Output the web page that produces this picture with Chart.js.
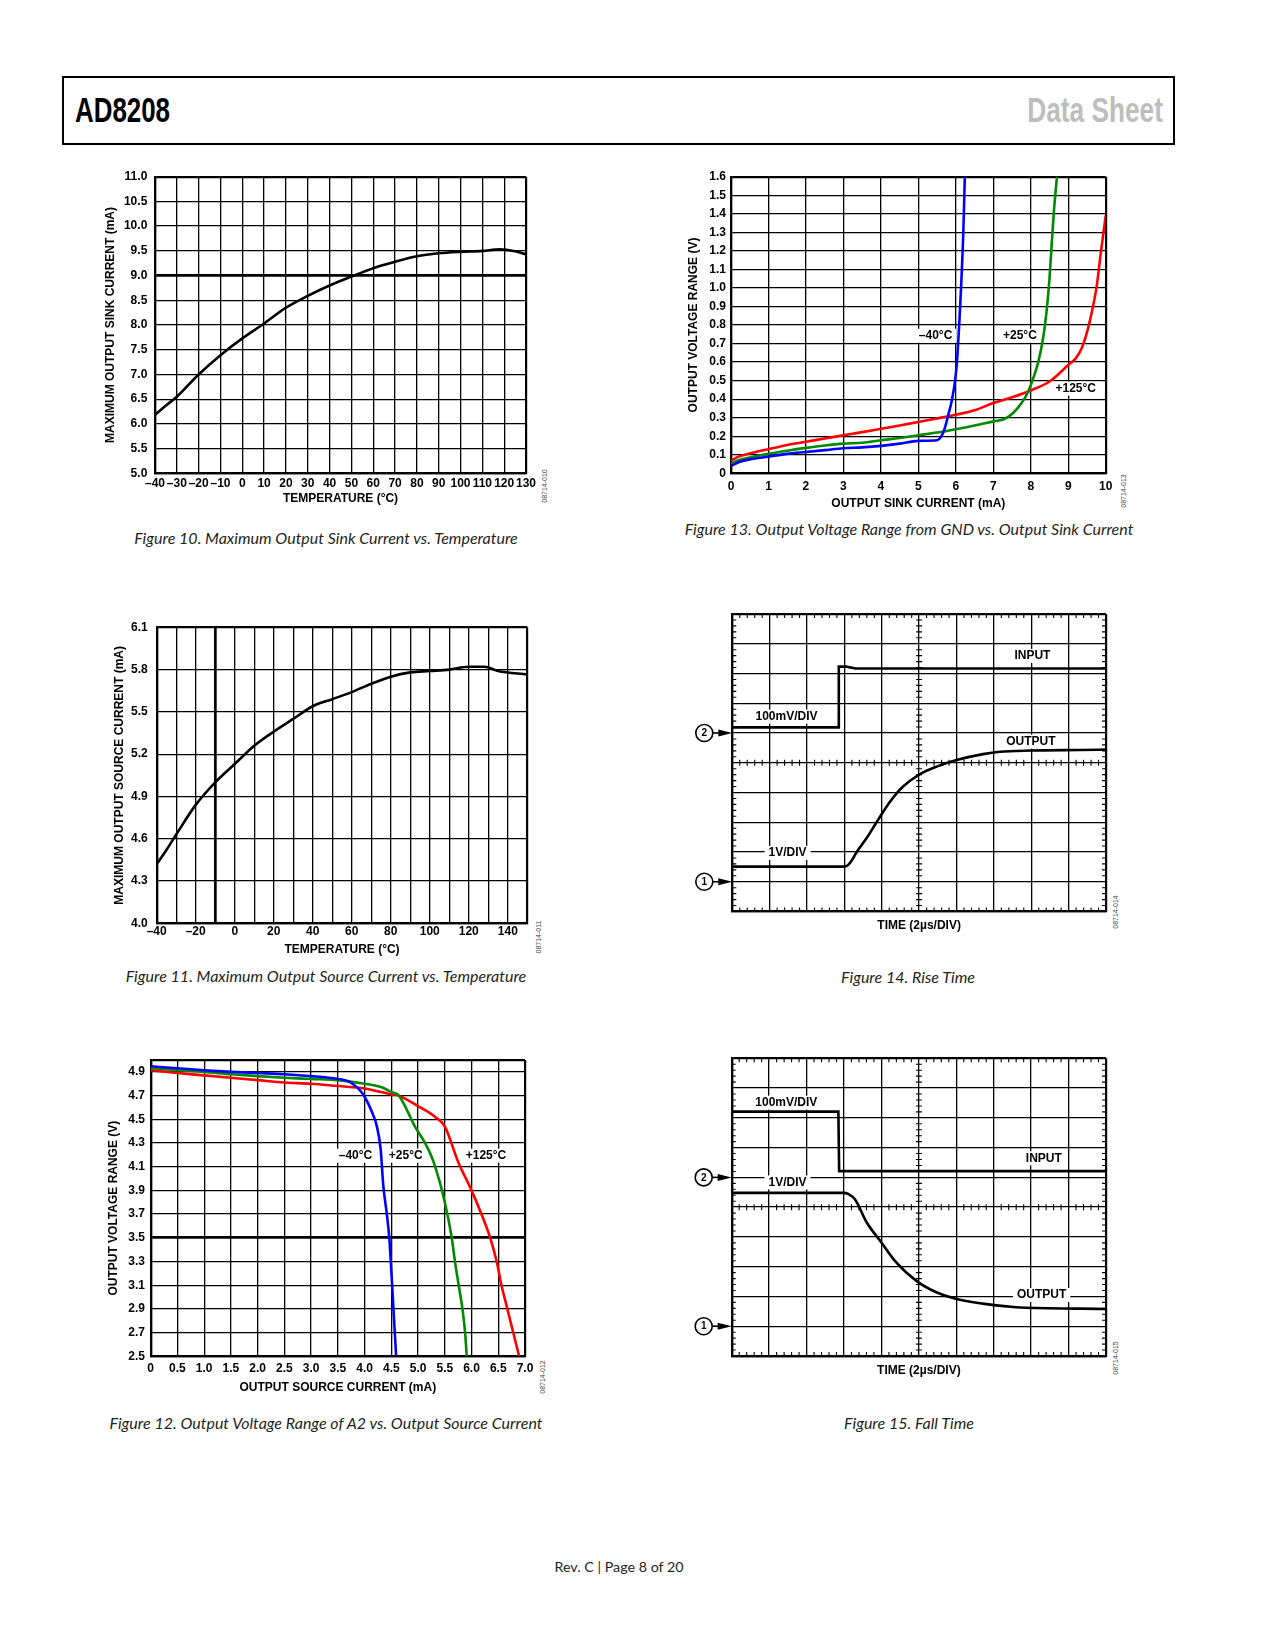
<!DOCTYPE html>
<html><head><meta charset="utf-8">
<script src="https://cdn.jsdelivr.net/npm/chart.js@4.4.0/dist/chart.umd.min.js"></script>
<style>
html,body{margin:0;padding:0;background:#fff;}
body{width:1275px;height:1650px;position:relative;overflow:hidden;font-family:'Liberation Sans',Arial,sans-serif;}
.cap{position:absolute;font-family:Lato,'Noto Sans',sans-serif;font-style:italic;font-size:16px;color:#231f20;white-space:nowrap;transform:translate(-50%,-50%);}
.code{position:absolute;font-family:'Liberation Sans',Arial,sans-serif;font-size:7px;color:#444;white-space:nowrap;transform:translate(-50%,-50%) rotate(-90deg);}
.hd{position:absolute;font-family:'Liberation Sans',Arial,sans-serif;font-weight:bold;font-size:35px;line-height:35px;white-space:nowrap;}
</style></head><body>
<div style="position:absolute;left:62px;top:76px;width:1109px;height:65px;border:2px solid #000;"></div>
<div class="hd" style="left:75px;top:92px;color:#000;transform:scaleX(0.74);transform-origin:left center;">AD8208</div>
<div class="hd" style="right:112px;top:92px;color:#bdbdbd;transform:scaleX(0.75);transform-origin:right center;">Data Sheet</div>

<div class="cap" style="left:326px;top:537px;">Figure 10. Maximum Output Sink Current vs. Temperature</div>
<div class="cap" style="left:909px;top:528px;">Figure 13. Output Voltage Range from GND vs. Output Sink Current</div>
<div class="cap" style="left:326px;top:975px;">Figure 11. Maximum Output Source Current vs. Temperature</div>
<div class="cap" style="left:908px;top:976px;">Figure 14. Rise Time</div>
<div class="cap" style="left:326px;top:1422px;">Figure 12. Output Voltage Range of A2 vs. Output Source Current</div>
<div class="cap" style="left:909px;top:1422px;">Figure 15. Fall Time</div>

<div class="code" style="left:544px;top:486px;">08714-010</div>
<div class="code" style="left:1123px;top:491px;">08714-013</div>
<div class="code" style="left:538px;top:937px;">08714-011</div>
<div class="code" style="left:1115px;top:912px;">08714-014</div>
<div class="code" style="left:542px;top:1377px;">08714-012</div>
<div class="code" style="left:1115px;top:1358px;">08714-015</div>

<div style="position:absolute;left:619px;top:1566px;transform:translate(-50%,-50%);font-family:Lato,'Noto Sans',sans-serif;font-size:14.3px;color:#231f20;white-space:nowrap;">Rev. C | Page 8 of 20</div>

<script>
// ---------------- DATA ----------------
// Figure 10: max output sink current vs temperature
const sinkTemp = [-40,-35,-30,-20,-10,0,10,20,30,40,50,60,70,80,90,100,110,118,125,130];
const sinkCurrent = [6.18,6.37,6.55,7.0,7.39,7.73,8.03,8.35,8.59,8.8,8.98,9.15,9.28,9.39,9.45,9.48,9.5,9.53,9.49,9.43];
const fig10XTicks = [-40,-30,-20,-10,0,10,20,30,40,50,60,70,80,90,100,110,120,130];
const fig10XLabels = ['–40','–30','–20','–10','0','10','20','30','40','50','60','70','80','90','100','110','120','130'];
const fig10YTicks = [5,5.5,6,6.5,7,7.5,8,8.5,9,9.5,10,10.5,11];
const fig10YLabels = ['5.0','5.5','6.0','6.5','7.0','7.5','8.0','8.5','9.0','9.5','10.0','10.5','11.0'];

// Figure 11: max output source current vs temperature
const srcTemp = [-40,-35,-30,-20,-10,0,10,20,30,40,50,60,70,80,90,100,110,120,128,135,150];
const srcCurrent = [4.42,4.52,4.63,4.84,5.0,5.13,5.26,5.36,5.45,5.54,5.59,5.64,5.70,5.75,5.78,5.79,5.80,5.82,5.82,5.79,5.765];
const fig11XTicks = [-40,-30,-20,-10,0,10,20,30,40,50,60,70,80,90,100,110,120,130,140,150];
const fig11XLabels = ['–40','','–20','','0','','20','','40','','60','','80','','100','','120','','140',''];
const fig11YTicks = [4.0,4.3,4.6,4.9,5.2,5.5,5.8,6.1];
const fig11YLabels = ['4.0','4.3','4.6','4.9','5.2','5.5','5.8','6.1'];

// Figure 12: output voltage range vs output source current
const srcBlueX = [0,0.5,1.0,1.5,2.0,2.5,3.0,3.5,3.7,3.88,4.0,4.13,4.23,4.3,4.35,4.41,4.46,4.49,4.54,4.59];
const srcBlueY = [4.947,4.93,4.914,4.90,4.89,4.88,4.864,4.84,4.82,4.76,4.69,4.57,4.44,4.25,3.94,3.72,3.51,3.3,2.9,2.5];
const srcGreenX = [0,0.5,1.0,1.5,2.0,2.5,3.0,3.5,4.0,4.32,4.5,4.63,4.79,4.94,5.13,5.29,5.5,5.63,5.69,5.76,5.83,5.88,5.91];
const srcGreenY = [4.933,4.914,4.90,4.88,4.864,4.85,4.84,4.83,4.80,4.77,4.73,4.705,4.58,4.44,4.30,4.14,3.80,3.5,3.3,3.1,2.9,2.7,2.5];
const srcRedX = [0,0.5,1.0,1.5,2.0,2.5,3.0,3.5,4.0,4.5,4.63,5.0,5.32,5.5,5.75,6.0,6.22,6.35,6.47,6.56,6.67,6.78,6.89];
const srcRedY = [4.914,4.89,4.87,4.85,4.83,4.81,4.80,4.78,4.76,4.71,4.70,4.61,4.52,4.44,4.14,3.9,3.66,3.5,3.3,3.1,2.9,2.7,2.5];
const fig12XTicks = [0,0.5,1,1.5,2,2.5,3,3.5,4,4.5,5,5.5,6,6.5,7];
const fig12XLabels = ['0','0.5','1.0','1.5','2.0','2.5','3.0','3.5','4.0','4.5','5.0','5.5','6.0','6.5','7.0'];
const fig12YTicks = [2.5,2.7,2.9,3.1,3.3,3.5,3.7,3.9,4.1,4.3,4.5,4.7,4.9,5.0];
const fig12YLabels = ['2.5','2.7','2.9','3.1','3.3','3.5','3.7','3.9','4.1','4.3','4.5','4.7','4.9',''];

// Figure 13: output voltage range from GND vs output sink current
const snkBlueX = [0,0.2,0.5,1,1.5,2,2.5,3,3.5,4,4.5,5,5.5,5.6,5.7,5.78,5.9,5.98,6.03,6.09,6.14,6.2,6.24];
const snkBlueY = [0.04,0.06,0.075,0.09,0.105,0.115,0.125,0.135,0.14,0.148,0.16,0.175,0.178,0.195,0.24,0.3,0.4,0.5,0.6,0.8,1.0,1.3,1.6];
const snkGreenX = [0,0.2,0.5,1,1.5,2,2.5,3,3.5,4,4.5,5,5.5,6,6.5,7,7.3,7.53,7.76,7.93,8.06,8.2,8.33,8.42,8.5,8.56,8.62,8.7];
const snkGreenY = [0.05,0.07,0.085,0.105,0.122,0.137,0.15,0.16,0.165,0.178,0.19,0.205,0.22,0.238,0.258,0.28,0.293,0.325,0.38,0.44,0.51,0.6,0.73,0.87,1.05,1.24,1.42,1.6];
const snkRedX = [0,0.2,0.5,1,1.5,2,2.5,3,3.5,4,4.5,5,5.5,6,6.5,7,7.5,8,8.5,9,9.2,9.35,9.5,9.63,9.76,9.87,10];
const snkRedY = [0.068,0.09,0.107,0.13,0.153,0.17,0.188,0.205,0.222,0.24,0.258,0.277,0.296,0.316,0.34,0.379,0.41,0.447,0.495,0.584,0.62,0.67,0.76,0.87,1.01,1.19,1.39];
const fig13XTicks = [0,1,2,3,4,5,6,7,8,9,10];
const fig13XLabels = ['0','1','2','3','4','5','6','7','8','9','10'];
const fig13YTicks = [0,0.1,0.2,0.3,0.4,0.5,0.6,0.7,0.8,0.9,1.0,1.1,1.2,1.3,1.4,1.5,1.6];
const fig13YLabels = ['0','0.1','0.2','0.3','0.4','0.5','0.6','0.7','0.8','0.9','1.0','1.1','1.2','1.3','1.4','1.5','1.6'];

// Figure 14: rise time (divisions)
const riseInT = [0,2.83,2.85,3.05,3.3,10];
const riseInV = [6.19,6.19,8.23,8.23,8.17,8.17];
const riseOutT = [0,3.0,3.1,3.2,3.33,3.59,3.86,4.22,4.57,5.0,5.47,6.0,6.71,7.16,8.0,9.3,10];
const riseOutV = [1.51,1.51,1.56,1.72,2.0,2.46,3.0,3.69,4.2,4.6,4.87,5.09,5.29,5.37,5.41,5.43,5.44];
// Figure 15: fall time (divisions)
const fallInT = [0,2.85,2.87,10];
const fallInV = [8.21,8.21,6.21,6.21];
const fallOutT = [0,3.0,3.1,3.3,3.6,3.99,4.39,4.98,5.45,5.96,6.7,7.6,9.3,10];
const fallOutV = [5.48,5.48,5.45,5.25,4.5,3.83,3.15,2.48,2.15,1.93,1.76,1.64,1.59,1.58];
const scopeDivs = [0,1,2,3,4,5,6,7,8,9,10];

// ---------------- RENDERING ----------------
const FONT = "'Liberation Sans', Arial, Helvetica, sans-serif";
Chart.defaults.font.family = FONT;
Chart.defaults.font.size = 12;
Chart.defaults.font.weight = 'bold';
Chart.defaults.color = '#000';

const pts = (xs, ys) => xs.map((v, i) => ({x: v, y: ys[i]}));

const annotPlugin = {
  id: 'annot',
  beforeDatasetsDraw(chart) {
    const a = chart.canvas._annot || {};
    const {ctx, chartArea} = chart;
    const xs = chart.scales.x, ys = chart.scales.y;
    ctx.save();
    if (a.scope) {
      const L = chartArea.left, R = chartArea.right, T = chartArea.top, B = chartArea.bottom;
      const cx = xs.getPixelForValue(5), cy = ys.getPixelForValue(5);
      ctx.strokeStyle = '#000'; ctx.lineWidth = 1.1;
      ctx.beginPath();
      for (let i = 1; i < 50; i++) {
        if (i % 5 === 0) continue;
        const px = xs.getPixelForValue(i / 5), py = ys.getPixelForValue(i / 5);
        ctx.moveTo(px, T); ctx.lineTo(px, T + 4);
        ctx.moveTo(px, B); ctx.lineTo(px, B - 4);
        ctx.moveTo(px, cy - 3); ctx.lineTo(px, cy + 3);
        ctx.moveTo(L, py); ctx.lineTo(L + 4, py);
        ctx.moveTo(R, py); ctx.lineTo(R - 4, py);
        ctx.moveTo(cx - 3, py); ctx.lineTo(cx + 3, py);
      }
      ctx.stroke();
    }
    (a.labels || []).forEach(l => {
      ctx.font = 'bold 12px ' + FONT;
      const px = xs.getPixelForValue(l.x), py = ys.getPixelForValue(l.y);
      const w = ctx.measureText(l.t).width;
      ctx.fillStyle = '#fff';
      ctx.fillRect(px - w / 2 - 4, py - 7, w + 8, 14);
      ctx.fillStyle = '#000'; ctx.textAlign = 'center'; ctx.textBaseline = 'middle';
      ctx.fillText(l.t, px, py);
    });
    ctx.restore();
  },
  afterDraw(chart) {
    const a = chart.canvas._annot || {};
    if (!a.markers) return;
    const {ctx, chartArea} = chart;
    const ys = chart.scales.y;
    ctx.save();
    a.markers.forEach(m => {
      const py = ys.getPixelForValue(m.y);
      const L = chartArea.left;
      const cx = L - 28, r = 8.5;
      ctx.strokeStyle = '#000'; ctx.lineWidth = 1.6;
      ctx.beginPath(); ctx.arc(cx, py, r, 0, Math.PI * 2); ctx.stroke();
      ctx.beginPath(); ctx.moveTo(cx + r, py); ctx.lineTo(L - 10, py); ctx.stroke();
      ctx.fillStyle = '#000';
      ctx.beginPath(); ctx.moveTo(L - 14, py - 3.5); ctx.lineTo(L, py); ctx.lineTo(L - 14, py + 3.5); ctx.closePath(); ctx.fill();
      ctx.font = 'bold 10px ' + FONT; ctx.textAlign = 'center'; ctx.textBaseline = 'middle';
      ctx.fillText(m.t, cx, py + 0.5);
    });
    ctx.restore();
  }
};

function axisCfg(o) {
  return {
    type: 'linear', min: o.min, max: o.max,
    afterBuildTicks: s => { s.ticks = o.ticks.map(v => ({value: v})); },
    afterFit: s => {
      if (o.isX) s.height = o.fit; else s.width = o.fit;
      s.paddingTop = 0; s.paddingBottom = 0; s.paddingLeft = 0; s.paddingRight = 0;
    },
    grid: {
      color: '#000', drawTicks: false,
      lineWidth: c => {
        const v = c.tick ? c.tick.value : null;
        if (o.heavy !== undefined && v === o.heavy) return 2.7;
        if (v === o.max || v === o.min) return 2.2;
        return 1.3;
      }
    },
    border: {display: true, color: '#000', width: 2.2},
    ticks: {
      display: !!o.labels, autoSkip: false, maxRotation: 0, minRotation: 0,
      padding: o.tickPad || 0, color: '#000', font: {size: 12, weight: 'bold'},
      callback: (v, i) => (o.labels ? o.labels[i] : '')
    },
    title: o.title ? {
      display: true, text: o.title, color: '#000', font: {size: 12, weight: 'bold'},
      padding: o.isX ? {top: 0, bottom: o.titlePad} : {top: o.titlePad, bottom: 0}
    } : {display: false}
  };
}

function makeChart(box, plot, xo, yo, datasets, annot) {
  const wrap = document.createElement('div');
  wrap.style.cssText = `position:absolute;left:${box.x}px;top:${box.y}px;width:${box.w}px;height:${box.h}px;`;
  const cv = document.createElement('canvas');
  wrap.appendChild(cv); document.body.appendChild(wrap);
  cv._annot = annot || {};
  xo.isX = true;
  xo.fit = box.y + box.h - plot.b;
  yo.fit = plot.l - box.x;
  if (xo.title) xo.titlePad = box.y + box.h - xo.titleY - 7.2;
  if (yo.title) yo.titlePad = yo.titleX - box.x - 7.2;
  new Chart(cv, {
    type: 'line',
    data: {datasets},
    options: {
      responsive: true, maintainAspectRatio: false, animation: false, events: [],
      layout: {padding: {left: 0, top: plot.t - box.y, right: box.x + box.w - plot.r, bottom: 0}},
      plugins: {legend: {display: false}, tooltip: {enabled: false}},
      scales: {x: axisCfg(xo), y: axisCfg(yo)}
    },
    plugins: [annotPlugin]
  });
}

function ds(xs, ys, color, smooth) {
  return {
    data: pts(xs, ys), borderColor: color, borderWidth: 2.6, pointRadius: 0,
    fill: false, tension: 0, cubicInterpolationMode: smooth ? 'monotone' : 'default'
  };
}

const BLUE = '#0000ff', GREEN = '#008a00', RED = '#ff0000', BLACK = '#000000';

// Figure 10
makeChart({x: 60, y: 160, w: 490, h: 352}, {l: 155, t: 176.7, r: 526, b: 473.3},
  {min: -40, max: 130, ticks: fig10XTicks, labels: fig10XLabels, tickPad: 2.8, title: 'TEMPERATURE (°C)', titleY: 498.6},
  {min: 5, max: 11, ticks: fig10YTicks, labels: fig10YLabels, tickPad: 7.7, heavy: 9, title: 'MAXIMUM OUTPUT SINK CURRENT (mA)', titleX: 110.8},
  [ds(sinkTemp, sinkCurrent, BLACK, true)]);

// Figure 11
makeChart({x: 60, y: 610, w: 490, h: 352}, {l: 156.7, t: 627.3, r: 527.3, b: 923.3},
  {min: -40, max: 150, ticks: fig11XTicks, labels: fig11XLabels, tickPad: 1.5, heavy: -10, title: 'TEMPERATURE (°C)', titleY: 949.8},
  {min: 4.0, max: 6.1, ticks: fig11YTicks, labels: fig11YLabels, tickPad: 9, title: 'MAXIMUM OUTPUT SOURCE CURRENT (mA)', titleX: 119.5},
  [ds(srcTemp, srcCurrent, BLACK, true)]);

// Figure 12
makeChart({x: 60, y: 1044, w: 490, h: 356}, {l: 150.7, t: 1060, r: 525, b: 1356.3},
  {min: 0, max: 7, ticks: fig12XTicks, labels: fig12XLabels, tickPad: 4.8, title: 'OUTPUT SOURCE CURRENT (mA)', titleY: 1388},
  {min: 2.5, max: 5.0, ticks: fig12YTicks, labels: fig12YLabels, tickPad: 5.7, heavy: 3.5, title: 'OUTPUT VOLTAGE RANGE (V)', titleX: 114},
  [ds(srcBlueX, srcBlueY, BLUE, true), ds(srcGreenX, srcGreenY, GREEN, true), ds(srcRedX, srcRedY, RED, true)],
  {labels: [{x: 3.83, y: 4.193, t: '–40°C'}, {x: 4.77, y: 4.193, t: '+25°C'}, {x: 6.27, y: 4.193, t: '+125°C'}]});

// Figure 13
makeChart({x: 640, y: 160, w: 490, h: 356}, {l: 731, t: 176.7, r: 1105.7, b: 473.3},
  {min: 0, max: 10, ticks: fig13XTicks, labels: fig13XLabels, tickPad: 6.5, title: 'OUTPUT SINK CURRENT (mA)', titleY: 504},
  {min: 0, max: 1.6, ticks: fig13YTicks, labels: fig13YLabels, tickPad: 5, title: 'OUTPUT VOLTAGE RANGE (V)', titleX: 693.5},
  [ds(snkBlueX, snkBlueY, BLUE, true), ds(snkGreenX, snkGreenY, GREEN, true), ds(snkRedX, snkRedY, RED, true)],
  {labels: [{x: 5.46, y: 0.742, t: '–40°C'}, {x: 7.71, y: 0.742, t: '+25°C'}, {x: 9.2, y: 0.457, t: '+125°C'}]});

// Figure 14
makeChart({x: 680, y: 600, w: 440, h: 340}, {l: 732.3, t: 614, r: 1106, b: 911.5},
  {min: 0, max: 10, ticks: scopeDivs, labels: null, title: 'TIME (2µs/DIV)', titleY: 925.7},
  {min: 0, max: 10, ticks: scopeDivs, labels: null},
  [ds(riseInT, riseInV, BLACK, false), ds(riseOutT, riseOutV, BLACK, true)],
  {scope: true,
   labels: [{x: 8.03, y: 8.59, t: 'INPUT'}, {x: 7.99, y: 5.71, t: 'OUTPUT'}, {x: 1.45, y: 6.55, t: '100mV/DIV'}, {x: 1.48, y: 1.97, t: '1V/DIV'}],
   markers: [{y: 6, t: '2'}, {y: 1, t: '1'}]});

// Figure 15
makeChart({x: 680, y: 1044, w: 440, h: 341}, {l: 731.7, t: 1058.3, r: 1106, b: 1356},
  {min: 0, max: 10, ticks: scopeDivs, labels: null, title: 'TIME (2µs/DIV)', titleY: 1370.3},
  {min: 0, max: 10, ticks: scopeDivs, labels: null},
  [ds(fallInT, fallInV, BLACK, false), ds(fallOutT, fallOutV, BLACK, true)],
  {scope: true,
   labels: [{x: 1.46, y: 8.51, t: '100mV/DIV'}, {x: 1.49, y: 5.83, t: '1V/DIV'}, {x: 8.34, y: 6.64, t: 'INPUT'}, {x: 8.28, y: 2.05, t: 'OUTPUT'}],
   markers: [{y: 6, t: '2'}, {y: 1, t: '1'}]});
</script>
</body></html>
